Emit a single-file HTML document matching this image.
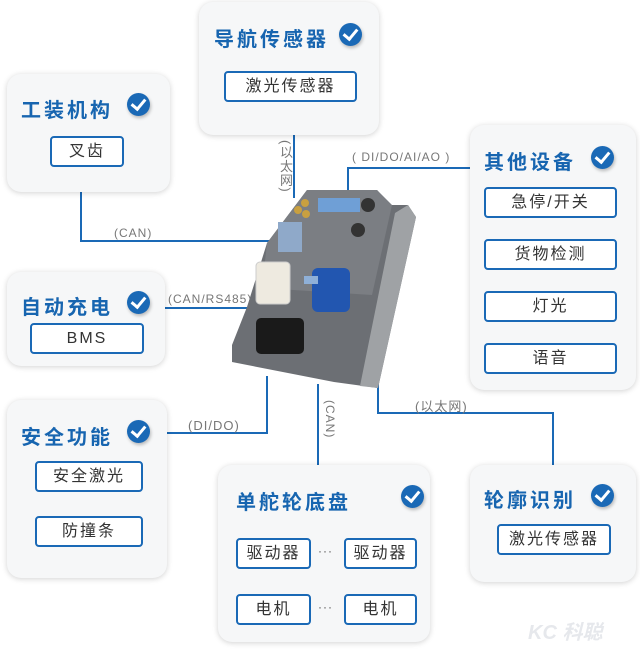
<!DOCTYPE html>
<html><head><meta charset="utf-8"><style>
body{margin:0;width:640px;height:653px;background:#fff;position:relative;overflow:hidden;font-family:"Liberation Sans","Noto Sans CJK SC",sans-serif}
.card{position:absolute;background:#f6f7f8;border-radius:14px;box-shadow:0 1px 6px rgba(0,0,0,.18)}
.t{position:absolute;color:#1765b0;font-weight:bold;font-size:20px;letter-spacing:3px;white-space:nowrap}
.ck{position:absolute;width:23px;height:23px;border-radius:50%;background:#1a69b6;box-shadow:1px 2px 3px rgba(0,0,0,.25)}
.ck:after{content:"";position:absolute;left:7px;top:3px;width:6px;height:11px;border:solid #fff;border-width:0 3px 3px 0;transform:rotate(40deg)}
.b{position:absolute;border:2px solid #1a69b6;border-radius:4px;background:#fff;color:#333;font-size:16px;text-align:center;letter-spacing:2px;box-sizing:border-box}
.l{position:absolute;background:#1a69b6}
.lb{position:absolute;color:#777;font-size:12px;white-space:nowrap;letter-spacing:1px}
.v{writing-mode:vertical-rl}
</style></head><body>
<div class="l" style="left:80px;top:190px;width:2px;height:52px"></div>
<div class="l" style="left:80px;top:240px;width:194px;height:2px"></div>
<div class="l" style="left:293px;top:133px;width:2px;height:65px"></div>
<div class="l" style="left:347px;top:167px;width:2px;height:24px"></div>
<div class="l" style="left:347px;top:167px;width:124px;height:2px"></div>
<div class="l" style="left:165px;top:307px;width:88px;height:2px"></div>
<div class="l" style="left:166px;top:432px;width:102px;height:2px"></div>
<div class="l" style="left:266px;top:376px;width:2px;height:58px"></div>
<div class="l" style="left:317px;top:384px;width:2px;height:82px"></div>
<div class="l" style="left:377px;top:312px;width:2px;height:101px"></div>
<div class="l" style="left:377px;top:412px;width:177px;height:2px"></div>
<div class="l" style="left:552px;top:412px;width:2px;height:54px"></div>
<div class="lb" style="left:114px;top:226px">(CAN)</div>
<div class="lb v" style="left:276px;top:140px;font-size:13px">(以太网)</div>
<div class="lb" style="left:352px;top:150px">( DI/DO/AI/AO )</div>
<div class="lb" style="left:168px;top:292px">(CAN/RS485)</div>
<div class="lb" style="left:188px;top:418px;font-size:13px">(DI/DO)</div>
<div class="lb v" style="left:323px;top:400px">(CAN)</div>
<div class="lb" style="left:415px;top:396px;font-size:13px">(以太网)</div>
<svg style="position:absolute;left:0;top:0" width="640" height="653">
<polygon points="307,190 377,190 390,205 408,205 416,217 378,388 334,382 232,362 232,345 247,307 267,243" fill="#6c6f74"/>
<polygon points="267,243 307,190 377,190 392,205 372,295 262,288" fill="#7b7e83"/>
<polygon points="408,205 416,217 378,388 360,386 395,213" fill="#9fa2a5"/>
<rect x="318" y="198" width="42" height="14" fill="#6f9fd6"/>
<circle cx="298" cy="210" r="4" fill="#c9a040"/><circle cx="305" cy="203" r="4" fill="#c9a040"/><circle cx="306" cy="214" r="4" fill="#c9a040"/>
<rect x="278" y="222" width="24" height="30" fill="#8fa9c9"/>
<circle cx="368" cy="205" r="7" fill="#333"/><circle cx="358" cy="230" r="7" fill="#333"/>
<rect x="256" y="262" width="34" height="42" rx="4" fill="#eeeae0" stroke="#ccc"/>
<rect x="312" y="268" width="38" height="44" rx="6" fill="#2256b0"/>
<rect x="256" y="318" width="48" height="36" rx="5" fill="#1a1a1a"/>
<rect x="304" y="276" width="14" height="8" fill="#8fb0d8"/>
</svg>
<div class="card" style="left:199px;top:2px;width:180px;height:133px"></div>
<div class="t" style="left:214px;top:23px">导航传感器</div><div class="ck" style="left:339px;top:23px"></div>
<div class="b" style="left:224px;top:71px;width:133px;height:31px;line-height:27px">激光传感器</div>
<div class="card" style="left:7px;top:74px;width:163px;height:118px"></div>
<div class="t" style="left:21px;top:94px">工装机构</div><div class="ck" style="left:127px;top:93px"></div>
<div class="b" style="left:50px;top:136px;width:74px;height:31px;line-height:27px">叉齿</div>
<div class="card" style="left:470px;top:125px;width:166px;height:265px"></div>
<div class="t" style="left:484px;top:146px">其他设备</div><div class="ck" style="left:591px;top:146px"></div>
<div class="b" style="left:484px;top:187px;width:133px;height:31px;line-height:27px">急停/开关</div>
<div class="b" style="left:484px;top:239px;width:133px;height:31px;line-height:27px">货物检测</div>
<div class="b" style="left:484px;top:291px;width:133px;height:31px;line-height:27px">灯光</div>
<div class="b" style="left:484px;top:343px;width:133px;height:31px;line-height:27px">语音</div>
<div class="card" style="left:7px;top:272px;width:158px;height:94px"></div>
<div class="t" style="left:21px;top:291px">自动充电</div><div class="ck" style="left:127px;top:291px"></div>
<div class="b" style="left:30px;top:323px;width:114px;height:31px;line-height:27px">BMS</div>
<div class="card" style="left:7px;top:400px;width:160px;height:178px"></div>
<div class="t" style="left:21px;top:421px">安全功能</div><div class="ck" style="left:127px;top:420px"></div>
<div class="b" style="left:35px;top:461px;width:108px;height:31px;line-height:27px">安全激光</div>
<div class="b" style="left:35px;top:516px;width:108px;height:31px;line-height:27px">防撞条</div>
<div class="card" style="left:218px;top:465px;width:212px;height:177px"></div>
<div class="t" style="left:236px;top:486px">单舵轮底盘</div><div class="ck" style="left:401px;top:485px"></div>
<div class="b" style="left:236px;top:538px;width:75px;height:31px;line-height:27px">驱动器</div>
<div class="b" style="left:344px;top:538px;width:73px;height:31px;line-height:27px">驱动器</div>
<div class="b" style="left:236px;top:594px;width:75px;height:31px;line-height:27px">电机</div>
<div class="b" style="left:344px;top:594px;width:73px;height:31px;line-height:27px">电机</div>
<div class="lb" style="left:318px;top:544px;color:#555">···</div>
<div class="lb" style="left:318px;top:600px;color:#555">···</div>
<div class="card" style="left:470px;top:465px;width:166px;height:117px"></div>
<div class="t" style="left:484px;top:484px">轮廓识别</div><div class="ck" style="left:591px;top:484px"></div>
<div class="b" style="left:497px;top:524px;width:114px;height:31px;line-height:27px">激光传感器</div>
<div style="position:absolute;left:528px;top:616px;color:#e6e8ec;font-size:20px;font-weight:bold;font-style:italic">KC 科聪</div>
</body></html>
